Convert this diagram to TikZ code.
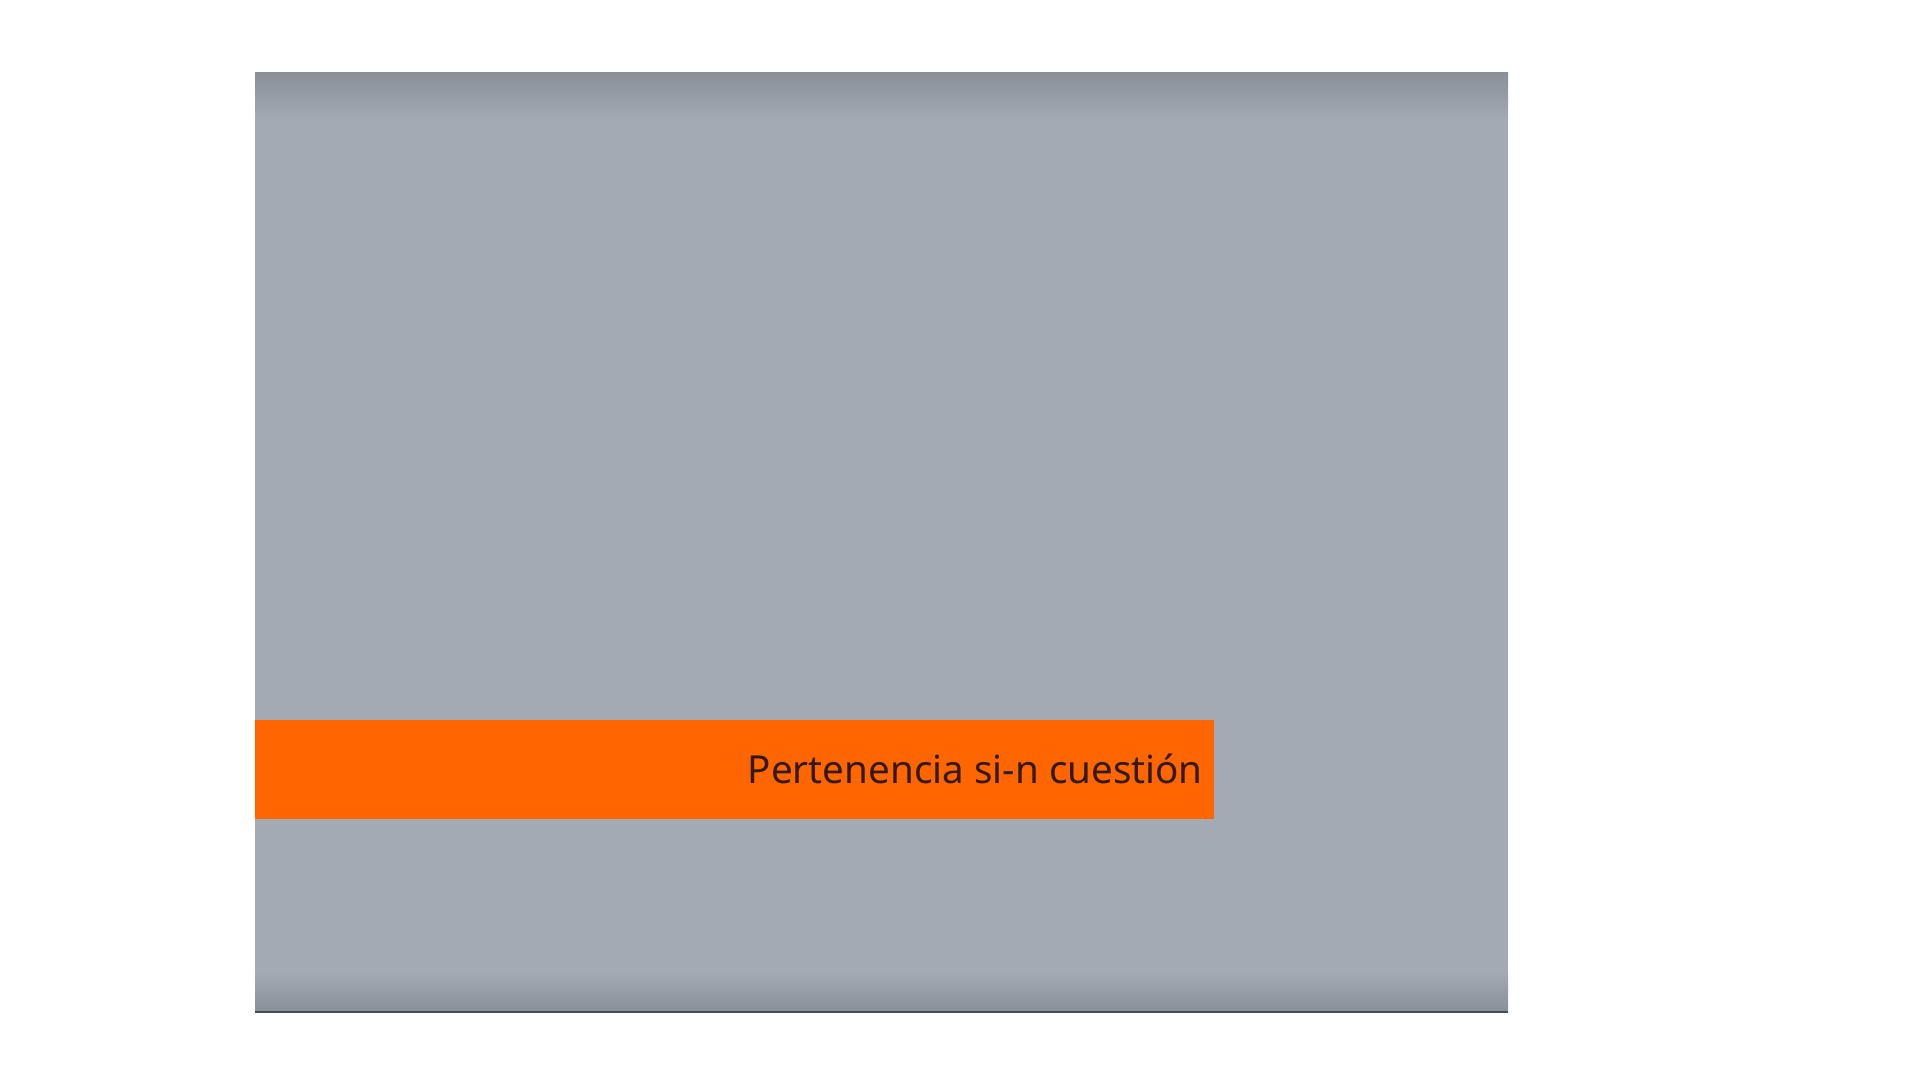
\documentclass[tikz,border=0pt]{standalone}
\usepackage{fontspec}
\setmainfont{Noto Sans}
\definecolor{panelgray}{HTML}{A3AAB3}
\definecolor{paneldark}{HTML}{8A9098}
\definecolor{bandorange}{HTML}{FF6600}
\definecolor{textbrown}{HTML}{33190A}
\definecolor{edgeline}{HTML}{484B50}
\begin{document}
\begin{tikzpicture}[x=1pt,y=1pt,
  labeltext/.style={font=\fontsize{38.6}{41}\selectfont, text=textbrown, inner sep=0pt, anchor=base east}]
\useasboundingbox (0,0) rectangle (1920,1080);
\fill[white] (0,0) rectangle (1920,1080);
% panel
\fill[panelgray] (255,68) rectangle (1508,1007);
\shade[top color=paneldark, bottom color=panelgray] (255,960) rectangle (1508,1007);
\shade[top color=panelgray, bottom color=paneldark] (255,69) rectangle (1508,108);
\fill[edgeline] (255,67) rectangle (1508,69.5);
% orange band
\fill[bandorange] (255,261) rectangle (1214,360);
\node[labeltext] (label) at (1203,297) {Pertenencia si-n cuestión};
\end{tikzpicture}
\end{document}
